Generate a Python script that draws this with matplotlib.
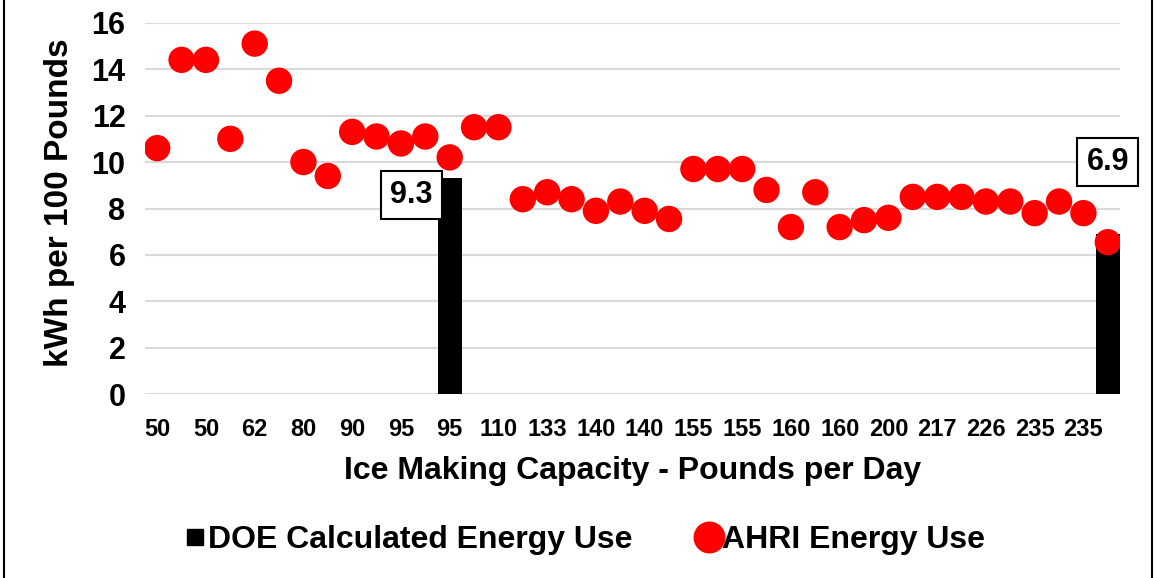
import matplotlib
matplotlib.use("Agg")
import matplotlib.pyplot as plt
from matplotlib.lines import Line2D
import numpy as np

plt.rcParams['font.family'] = ['Liberation Sans', 'DejaVu Sans']
plt.rcParams['font.weight'] = 'bold'

capacity = [50, 50, 50, 50, 62, 65, 80, 85, 90, 90,
            95, 95, 95, 100, 110, 130, 133, 135, 140, 140,
            140, 150, 155, 155, 155, 160, 160, 160, 160, 175,
            200, 210, 217, 220, 226, 230, 235, 235, 235, 240]

ahri = [10.6, 14.4, 14.4, 11.0, 15.1, 13.5, 10.0, 9.4, 11.3, 11.1,
        10.8, 11.1, 10.2, 11.5, 11.5, 8.4, 8.7, 8.4, 7.9, 8.3,
        7.9, 7.55, 9.7, 9.7, 9.7, 8.8, 7.2, 8.7, 7.2, 7.5,
        7.6, 8.5, 8.5, 8.5, 8.3, 8.3, 7.8, 8.3, 7.8, 6.55]

doe = [np.nan] * 40
doe[12] = 9.3
doe[39] = 6.9

doe_labels = {12: ("9.3", 10.42, 8.57), 39: ("6.9", 39.0, 10.0)}

fig = plt.figure(figsize=(11.56, 5.78), dpi=100)
ax = fig.add_axes([145/1156, 1-394.3/578, (1120-145)/1156, (394.3-22.7)/578])

x = np.arange(len(capacity))
ax.bar(x, doe, width=0.97, color='black', zorder=2)
ax.scatter(x, ahri, s=19**2, color='#ff0000', edgecolors='none', zorder=3)

for idx, (txt, tx, ty) in doe_labels.items():
    ax.text(tx, ty, txt, ha='center', va='center', fontsize=22, fontweight='bold',
            bbox=dict(boxstyle='square,pad=0.3', fc='white', ec='black', lw=1.5),
            zorder=4, clip_on=False)

ax.set_xlim(-0.5, len(capacity) - 0.5)
ax.set_ylim(0, 16)
ax.set_yticks(np.arange(0, 17, 2))
ax.set_xticks(x[::2])
ax.set_xticklabels([str(c) for c in capacity[::2]])
ax.tick_params(axis='y', labelsize=22, length=0, pad=14)
ax.tick_params(axis='x', labelsize=17, length=0, pad=17)
for lbl in ax.get_xticklabels() + ax.get_yticklabels():
    lbl.set_fontweight('bold')
ax.grid(axis='y', color='#d9d9d9', lw=1.5, zorder=0)
ax.set_axisbelow(True)
for s in ax.spines.values():
    s.set_visible(False)

ax.set_ylabel('kWh per 100 Pounds', fontsize=24, fontweight='bold')
ax.yaxis.set_label_coords(-0.0716, 0.516)
ax.set_xlabel('Ice Making Capacity - Pounds per Day', fontsize=23, fontweight='bold', labelpad=11)

handles = [Line2D([], [], ls='none', marker='s', color='black', markersize=11),
           Line2D([], [], ls='none', marker='o', color='#ff0000', markersize=22)]
labels = ['DOE Calculated Energy Use', 'AHRI Energy Use']
leg = fig.legend(handles, labels, loc='center', bbox_to_anchor=(0.505, 1-540/578), ncol=2,
                 frameon=False, fontsize=23, handletextpad=0.0, columnspacing=2.0,
                 handlelength=0.8)
for t in leg.get_texts():
    t.set_fontweight('bold')

fig.add_artist(Line2D([4/1156, 4/1156], [0, 1], color='black', lw=1.5, transform=fig.transFigure))
fig.add_artist(Line2D([1152/1156, 1152/1156], [0, 1], color='black', lw=1.5, transform=fig.transFigure))

fig.savefig('out.png', dpi=100)
